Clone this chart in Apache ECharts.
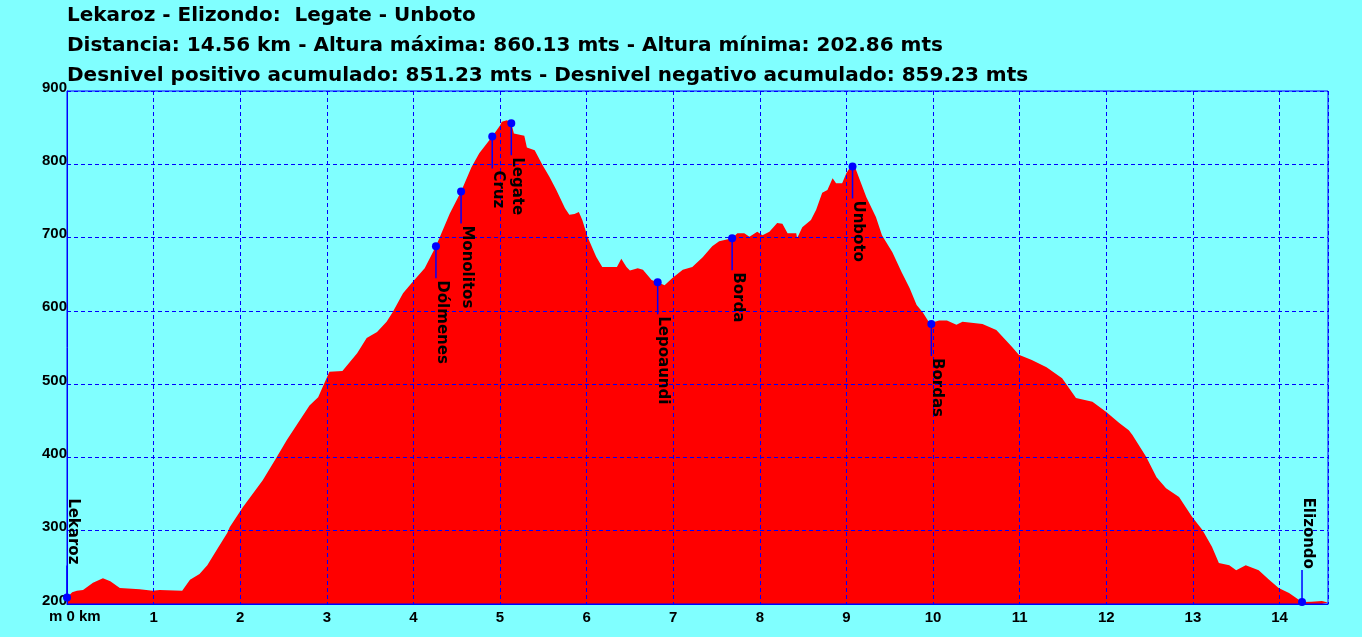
<!DOCTYPE html>
<html>
<head>
<meta charset="utf-8">
<script src="https://cdn.jsdelivr.net/npm/echarts@6/dist/echarts.min.js"></script>
<style>
html,body{margin:0;padding:0;background:#80ffff;}
#chart{width:1362px;height:637px;}
</style>
</head>
<body>
<div id="chart"></div>
<script>
// Title lines
const titleLines = [
  'Lekaroz - Elizondo:  Legate - Unboto',
  'Distancia: 14.56 km - Altura máxima: 860.13 mts - Altura mínima: 202.86 mts',
  'Desnivel positivo acumulado: 851.23 mts - Desnivel negativo acumulado: 859.23 mts'
];

// Profile: distance (km) and elevation (m)
const distances = [
  0, 0.06, 0.115, 0.185, 0.30, 0.415, 0.50, 0.61, 0.84, 0.99, 1.07, 1.33, 1.42, 1.53, 1.62, 1.73, 1.85,
  1.88, 2.03, 2.26, 2.40, 2.54, 2.65, 2.80, 2.90, 3.03, 3.18, 3.35, 3.46, 3.58, 3.69, 3.76, 3.88, 3.98,
  4.13, 4.26, 4.42, 4.55, 4.67, 4.76, 4.91, 5.00, 5.02, 5.08, 5.13, 5.16, 5.28, 5.31, 5.40, 5.49,
  5.57, 5.65, 5.75, 5.80, 5.86, 5.91, 5.95, 6.01, 6.11, 6.18, 6.35, 6.40, 6.46, 6.50, 6.59, 6.65,
  6.75, 6.82, 6.90, 6.99, 7.11, 7.22, 7.34, 7.45, 7.53, 7.68, 7.74, 7.82, 7.88, 7.97, 8.03, 8.11,
  8.20, 8.26, 8.32, 8.42, 8.43, 8.49, 8.59, 8.65, 8.72, 8.78, 8.84, 8.88, 8.95, 9.00, 9.06, 9.09,
  9.15, 9.23, 9.34, 9.41, 9.53, 9.64, 9.73, 9.81, 9.88, 9.96, 10.07, 10.16, 10.27, 10.34, 10.57, 10.73,
  10.80, 10.91, 10.99, 11.14, 11.31, 11.49, 11.65, 11.84, 12.00, 12.15, 12.26, 12.30, 12.46, 12.58, 12.69,
  12.84, 12.99, 13.11, 13.22, 13.30, 13.42, 13.50, 13.61, 13.76, 13.88, 13.99, 14.11, 14.26, 14.37,
  14.49, 14.56
];
const elevations = [
  209, 216, 218, 219, 229, 235, 231, 222, 220, 218, 219, 218, 233, 241, 253, 274, 297,
  305, 332, 369, 396, 424, 444, 471, 482, 517, 518, 542, 563, 571, 585, 598, 624, 638,
  658, 688, 733, 763, 796, 815, 838, 853, 858, 860.13, 856, 842, 839, 823, 819, 799,
  783, 765, 740, 731, 732, 735, 724, 701, 674, 660, 660, 671, 660, 655, 658, 656,
  642, 639, 635, 645, 656, 660, 673, 688, 695, 699, 706, 706, 701, 708, 703, 708,
  720, 719, 706, 706, 699, 714, 724, 738, 761, 765, 781, 774, 774, 788, 799, 799,
  780, 755, 728, 703, 680, 652, 631, 608, 598, 583, 587, 587, 581, 585, 582, 574,
  565, 551, 540, 533, 523, 508, 481, 476, 462, 447, 437, 431, 401, 373, 358,
  346, 319, 301, 278, 256, 253, 246, 253, 246, 233, 222, 215, 202.86, 203,
  204, 202
];

// Waypoints
const wpNames = ['Lekaroz', 'Dólmenes', 'Monolitos', 'Cruz', 'Legate', 'Lepoaundi', 'Borda', 'Unboto', 'Bordas', 'Elizondo'];
const wpKm    = [0, 4.26, 4.55, 4.91, 5.13, 6.82, 7.68, 9.07, 9.98, 14.26];
const wpEle   = [209, 688, 763, 838, 856, 639, 699, 797, 582, 202.86];

// Axis ticks
const yTicks = { min: 200, max: 900, interval: 100 };
const xTicks = { min: 0, max: 14.56, interval: 1 };

const profile = distances.map((d, i) => [d, elevations[i]]);
const wpData = wpKm.map((d, i) => [d, wpEle[i]]);

const FONT = 'Liberation Sans, Arial, sans-serif';
const WIDE = 'DejaVu Sans, Verdana, sans-serif';
const BLUE = '#0000ff';

const chart = echarts.init(document.getElementById('chart'), null, { renderer: 'canvas' });
chart.setOption({
  backgroundColor: '#80ffff',
  animation: false,
  title: {
    text: titleLines.join('\n'),
    left: 67, top: 1, padding: 0,
    textStyle: { fontFamily: WIDE, fontSize: 20, fontWeight: 'bold', color: '#000', lineHeight: 30 }
  },
  grid: {
    left: 67, right: 34, top: 91, bottom: 33,
    show: true, borderColor: BLUE, borderWidth: 1, backgroundColor: 'transparent'
  },
  xAxis: {
    type: 'value', min: xTicks.min, max: xTicks.max, interval: xTicks.interval,
    axisLine: { show: true, lineStyle: { color: BLUE, width: 1 } },
    axisTick: { show: false },
    splitLine: { show: true, lineStyle: { color: BLUE, type: [4, 3], width: 1 } },
    axisLabel: {
      margin: 6, color: '#000', fontFamily: FONT, fontSize: 15, fontWeight: 'bold',
      showMaxLabel: false,
      formatter: v => (v === 0 || Math.abs(v - Math.round(v)) > 1e-6) ? '' : String(v)
    }
  },
  yAxis: {
    type: 'value', min: yTicks.min, max: yTicks.max, interval: yTicks.interval,
    axisLine: { show: true, lineStyle: { color: BLUE, width: 1 } },
    axisTick: { show: false },
    splitLine: { show: true, lineStyle: { color: BLUE, type: [4, 3], width: 1 } },
    axisLabel: {
      margin: 0, color: '#000', fontFamily: FONT, fontSize: 15, fontWeight: 'bold',
      verticalAlign: 'bottom', lineHeight: 7
    }
  },
  graphic: [{
    type: 'text', left: 49, top: 609,
    style: { text: 'm 0 km', fontFamily: FONT, fontSize: 15, fontWeight: 'bold', fill: '#000' }
  }],
  series: [{
    type: 'line',
    data: profile,
    z: -1,
    symbol: 'none',
    lineStyle: { width: 0, color: '#ff0000' },
    areaStyle: { color: '#ff0000', opacity: 1 },
    silent: true
  }, {
    type: 'custom',
    z: 10,
    data: wpData,
    clip: false,
    renderItem: function (params, api) {
      const p = api.coord([api.value(0), api.value(1)]);
      const name = wpNames[params.dataIndex];
      const up = api.value(1) < 300;
      const len = 32;
      const y2 = up ? p[1] - len : p[1] + len;
      return {
        type: 'group',
        children: [{
          type: 'line',
          shape: { x1: p[0], y1: p[1], x2: p[0], y2: y2 },
          style: { stroke: BLUE, lineWidth: 1.5 }
        }, {
          type: 'circle',
          shape: { cx: p[0], cy: p[1], r: 4 },
          style: { fill: BLUE }
        }, {
          type: 'text',
          x: p[0] - 2, y: up ? y2 - 1 : y2 + 2,
          rotation: -Math.PI / 2,
          style: {
            text: name, x: 0, y: 0,
            align: up ? 'right' : 'left', verticalAlign: 'bottom',
            fontFamily: WIDE, fontSize: 15, fontWeight: 'bold', fill: '#000'
          }
        }]
      };
    }
  }]
});
</script>
</body>
</html>
